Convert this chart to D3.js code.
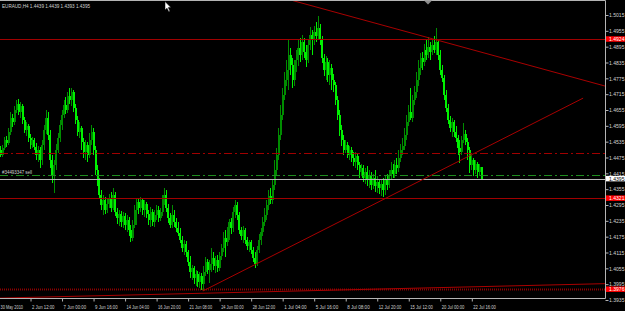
<!DOCTYPE html>
<html>
<head>
<meta charset="utf-8">
<script src="https://cdn.jsdelivr.net/npm/d3@7"></script>
<style>
  html, body { margin: 0; padding: 0; background: #000; overflow: hidden; }
</style>
</head>
<body>
<div id="chart"></div>
<script>
// EURAUD H4 bars (open / high / low / close)
const symbolTitle = "EURAUD,H4  1.4439 1.4439 1.4393 1.4395";
const orderText = "#34493347 sell";

const opens = [1.4496,
  1.4503,1.4484,1.4511,1.4541,1.4530,1.4572,1.4625,1.4610,1.4655,1.4678,
  1.4647,1.4670,1.4617,1.4579,1.4594,1.4549,1.4522,1.4541,1.4515,1.4484,
  1.4503,1.4466,1.4522,1.4579,1.4625,1.4560,1.4466,1.4409,1.4447,1.4503,
  1.4549,1.4598,1.4636,1.4674,1.4655,1.4708,1.4693,1.4723,1.4663,1.4617,
  1.4572,1.4587,1.4534,1.4496,1.4522,1.4484,1.4541,1.4572,1.4503,1.4428,
  1.4382,1.4333,1.4295,1.4314,1.4276,1.4299,1.4322,1.4284,1.4333,1.4269,
  1.4246,1.4261,1.4231,1.4253,1.4219,1.4238,1.4200,1.4170,1.4219,1.4276,
  1.4306,1.4284,1.4314,1.4276,1.4299,1.4261,1.4238,1.4269,1.4231,1.4257,
  1.4276,1.4246,1.4269,1.4314,1.4333,1.4284,1.4246,1.4219,1.4257,1.4231,
  1.4208,1.4189,1.4162,1.4132,1.4147,1.4117,1.4079,1.4041,1.4056,1.4018,
  1.4034,1.4003,1.4026,1.3996,1.4041,1.4079,1.4049,1.4071,1.4094,1.4064,
  1.4087,1.4056,1.4102,1.4132,1.4170,1.4155,1.4193,1.4231,1.4208,1.4269,
  1.4295,1.4257,1.4200,1.4177,1.4200,1.4162,1.4140,1.4155,1.4124,1.4094,
  1.4071,1.4124,1.4162,1.4193,1.4231,1.4257,1.4295,1.4329,1.4314,1.4371,
  1.4428,1.4484,1.4560,1.4636,1.4712,1.4769,1.4807,1.4863,1.4826,1.4769,
  1.4814,1.4845,1.4890,1.4863,1.4913,1.4875,1.4845,1.4901,1.4939,1.4920,
  1.4951,1.4936,1.4966,1.4920,1.4852,1.4807,1.4837,1.4788,1.4814,1.4769,
  1.4750,1.4693,1.4636,1.4579,1.4541,1.4503,1.4522,1.4484,1.4503,1.4473,
  1.4458,1.4481,1.4447,1.4420,1.4435,1.4397,1.4420,1.4390,1.4409,1.4371,
  1.4397,1.4367,1.4382,1.4359,1.4374,1.4352,1.4390,1.4371,1.4409,1.4428,
  1.4412,1.4447,1.4435,1.4473,1.4503,1.4519,1.4560,1.4610,1.4647,1.4625,
  1.4693,1.4723,1.4769,1.4814,1.4852,1.4837,1.4882,1.4863,1.4894,1.4875,
  1.4901,1.4882,1.4913,1.4863,1.4807,1.4776,1.4712,1.4663,1.4617,1.4587,
  1.4610,1.4572,1.4549,1.4511,1.4496,1.4541,1.4564,1.4534,1.4503,1.4447,
  1.4466,1.4428,1.4450,1.4420,1.4439];

const highs = [1.4511,
  1.4519,1.4522,1.4553,1.4556,1.4587,1.4647,1.4640,1.4670,1.4693,1.4697,
  1.4685,1.4678,1.4629,1.4610,1.4602,1.4564,1.4553,1.4549,1.4530,1.4519,
  1.4515,1.4541,1.4598,1.4655,1.4647,1.4579,1.4484,1.4466,1.4526,1.4568,
  1.4617,1.4655,1.4693,1.4704,1.4723,1.4738,1.4738,1.4731,1.4678,1.4632,
  1.4610,1.4594,1.4549,1.4541,1.4534,1.4568,1.4598,1.4587,1.4519,1.4447,
  1.4397,1.4352,1.4333,1.4325,1.4318,1.4337,1.4344,1.4359,1.4344,1.4284,
  1.4276,1.4272,1.4269,1.4265,1.4257,1.4250,1.4219,1.4238,1.4295,1.4322,
  1.4318,1.4325,1.4322,1.4314,1.4306,1.4276,1.4287,1.4280,1.4276,1.4295,
  1.4291,1.4284,1.4333,1.4359,1.4352,1.4299,1.4265,1.4295,1.4276,1.4246,
  1.4231,1.4208,1.4177,1.4162,1.4158,1.4124,1.4102,1.4068,1.4064,1.4049,
  1.4045,1.4041,1.4037,1.4064,1.4098,1.4090,1.4087,1.4132,1.4117,1.4102,
  1.4105,1.4117,1.4147,1.4193,1.4200,1.4212,1.4242,1.4246,1.4287,1.4314,
  1.4306,1.4269,1.4212,1.4215,1.4208,1.4174,1.4162,1.4162,1.4136,1.4117,
  1.4140,1.4185,1.4208,1.4250,1.4284,1.4314,1.4352,1.4359,1.4390,1.4466,
  1.4511,1.4587,1.4674,1.4738,1.4799,1.4845,1.4924,1.4890,1.4852,1.4845,
  1.4882,1.4920,1.4928,1.4939,1.4928,1.4901,1.4920,1.4970,1.4958,1.4973,
  1.4989,1.5011,1.4981,1.4936,1.4867,1.4860,1.4852,1.4845,1.4829,1.4791,
  1.4761,1.4708,1.4655,1.4598,1.4560,1.4541,1.4534,1.4519,1.4515,1.4496,
  1.4496,1.4488,1.4458,1.4450,1.4447,1.4435,1.4443,1.4428,1.4420,1.4412,
  1.4428,1.4405,1.4393,1.4390,1.4397,1.4405,1.4412,1.4428,1.4458,1.4450,
  1.4466,1.4473,1.4503,1.4526,1.4549,1.4587,1.4636,1.4674,1.4738,1.4712,
  1.4746,1.4799,1.4845,1.4871,1.4875,1.4905,1.4920,1.4932,1.4913,1.4920,
  1.4936,1.4966,1.4920,1.4882,1.4826,1.4788,1.4731,1.4678,1.4632,1.4625,
  1.4617,1.4594,1.4560,1.4541,1.4556,1.4606,1.4579,1.4549,1.4515,1.4484,
  1.4473,1.4466,1.4458,1.4450,1.4439];

const lows = [1.4481,
  1.4477,1.4477,1.4503,1.4515,1.4522,1.4560,1.4591,1.4598,1.4644,1.4636,
  1.4625,1.4602,1.4568,1.4556,1.4534,1.4507,1.4511,1.4503,1.4466,1.4458,
  1.4435,1.4447,1.4503,1.4564,1.4541,1.4435,1.4378,1.4340,1.4428,1.4492,
  1.4534,1.4579,1.4625,1.4640,1.4644,1.4678,1.4670,1.4647,1.4602,1.4556,
  1.4549,1.4503,1.4473,1.4466,1.4458,1.4473,1.4522,1.4484,1.4409,1.4367,
  1.4322,1.4276,1.4257,1.4261,1.4265,1.4284,1.4269,1.4276,1.4253,1.4223,
  1.4215,1.4212,1.4208,1.4200,1.4193,1.4177,1.4155,1.4158,1.4208,1.4219,
  1.4261,1.4269,1.4257,1.4250,1.4246,1.4219,1.4212,1.4215,1.4212,1.4238,
  1.4231,1.4234,1.4253,1.4295,1.4269,1.4227,1.4208,1.4208,1.4212,1.4193,
  1.4177,1.4151,1.4117,1.4105,1.4098,1.4064,1.4018,1.4011,1.3996,1.3988,
  1.3984,1.3980,1.3972,1.3969,1.4026,1.4034,1.3999,1.4041,1.4049,1.4037,
  1.4041,1.4045,1.4087,1.4117,1.4098,1.4140,1.4162,1.4185,1.4193,1.4246,
  1.4238,1.4185,1.4162,1.4151,1.4147,1.4124,1.4117,1.4109,1.4079,1.4056,
  1.4064,1.4113,1.4143,1.4177,1.4215,1.4238,1.4276,1.4299,1.4299,1.4352,
  1.4409,1.4466,1.4541,1.4617,1.4693,1.4746,1.4731,1.4788,1.4738,1.4746,
  1.4799,1.4822,1.4837,1.4845,1.4852,1.4818,1.4833,1.4882,1.4863,1.4901,
  1.4913,1.4920,1.4901,1.4833,1.4784,1.4769,1.4761,1.4750,1.4731,1.4723,
  1.4674,1.4617,1.4556,1.4519,1.4484,1.4492,1.4473,1.4466,1.4458,1.4443,
  1.4435,1.4428,1.4397,1.4405,1.4382,1.4374,1.4367,1.4359,1.4352,1.4356,
  1.4344,1.4340,1.4337,1.4329,1.4325,1.4333,1.4352,1.4359,1.4390,1.4397,
  1.4397,1.4412,1.4420,1.4458,1.4484,1.4503,1.4541,1.4594,1.4617,1.4610,
  1.4674,1.4700,1.4746,1.4788,1.4807,1.4822,1.4845,1.4852,1.4845,1.4863,
  1.4871,1.4863,1.4845,1.4788,1.4761,1.4693,1.4647,1.4602,1.4572,1.4553,
  1.4553,1.4534,1.4484,1.4454,1.4484,1.4530,1.4522,1.4466,1.4416,1.4428,
  1.4405,1.4412,1.4397,1.4405,1.4393];

const closes = [1.4503,
  1.4484,1.4511,1.4541,1.4530,1.4572,1.4625,1.4610,1.4655,1.4678,1.4647,
  1.4670,1.4617,1.4579,1.4594,1.4549,1.4522,1.4541,1.4515,1.4484,1.4503,
  1.4466,1.4522,1.4579,1.4625,1.4560,1.4466,1.4409,1.4447,1.4503,1.4549,
  1.4598,1.4636,1.4674,1.4655,1.4708,1.4693,1.4723,1.4663,1.4617,1.4572,
  1.4587,1.4534,1.4496,1.4522,1.4484,1.4541,1.4572,1.4503,1.4428,1.4382,
  1.4333,1.4295,1.4314,1.4276,1.4299,1.4322,1.4284,1.4333,1.4269,1.4246,
  1.4261,1.4231,1.4253,1.4219,1.4238,1.4200,1.4170,1.4219,1.4276,1.4306,
  1.4284,1.4314,1.4276,1.4299,1.4261,1.4238,1.4269,1.4231,1.4257,1.4276,
  1.4246,1.4269,1.4314,1.4333,1.4284,1.4246,1.4219,1.4257,1.4231,1.4208,
  1.4189,1.4162,1.4132,1.4147,1.4117,1.4079,1.4041,1.4056,1.4018,1.4034,
  1.4003,1.4026,1.3996,1.4041,1.4079,1.4049,1.4071,1.4094,1.4064,1.4087,
  1.4056,1.4102,1.4132,1.4170,1.4155,1.4193,1.4231,1.4208,1.4269,1.4295,
  1.4257,1.4200,1.4177,1.4200,1.4162,1.4140,1.4155,1.4124,1.4094,1.4071,
  1.4124,1.4162,1.4193,1.4231,1.4257,1.4295,1.4329,1.4314,1.4371,1.4428,
  1.4484,1.4560,1.4636,1.4712,1.4769,1.4807,1.4863,1.4826,1.4769,1.4814,
  1.4845,1.4890,1.4863,1.4913,1.4875,1.4845,1.4901,1.4939,1.4920,1.4951,
  1.4936,1.4966,1.4920,1.4852,1.4807,1.4837,1.4788,1.4814,1.4769,1.4750,
  1.4693,1.4636,1.4579,1.4541,1.4503,1.4522,1.4484,1.4503,1.4473,1.4458,
  1.4481,1.4447,1.4420,1.4435,1.4397,1.4420,1.4390,1.4409,1.4371,1.4397,
  1.4367,1.4382,1.4359,1.4374,1.4352,1.4390,1.4371,1.4409,1.4428,1.4412,
  1.4447,1.4435,1.4473,1.4503,1.4519,1.4560,1.4610,1.4647,1.4625,1.4693,
  1.4723,1.4769,1.4814,1.4852,1.4837,1.4882,1.4863,1.4894,1.4875,1.4901,
  1.4882,1.4913,1.4863,1.4807,1.4776,1.4712,1.4663,1.4617,1.4587,1.4610,
  1.4572,1.4549,1.4511,1.4496,1.4541,1.4564,1.4534,1.4503,1.4447,1.4466,
  1.4428,1.4450,1.4420,1.4439,1.4395];

const priceTicks = [1.5015, 1.4955, 1.4895, 1.4835, 1.4775, 1.4715, 1.4655, 1.4595,
  1.4535, 1.4475, 1.4415, 1.4355, 1.4295, 1.4235, 1.4175, 1.4115, 1.4055, 1.3995, 1.3935];

const timeTickBars = [0, 16, 32, 48, 64, 80, 96, 112, 128, 144, 160, 176, 192, 208, 224, 240];
const timeLabels = ["30 May 2010", "2 Jun 12:00", "7 Jun 00:00", "9 Jun 16:00", "14 Jun 04:00",
  "16 Jun 20:00", "21 Jun 08:00", "24 Jun 00:00", "28 Jun 12:00", "1 Jul 04:00", "5 Jul 16:00",
  "8 Jul 08:00", "12 Jul 20:00", "15 Jul 12:00", "20 Jul 00:00", "22 Jul 16:00"];

// horizontal levels
const redLevels = [1.4924, 1.4321];
const stopLevel = 1.4492;
const orderLevel = 1.4409;
const bidPrice = 1.4395;
const dotLevel = 1.3976;

// trend lines as [bar index, price] pairs
const trendLines = [
  [[147, 1.5074], [308, 1.4745]],
  [[103.5, 1.3969], [296.5, 1.4700]],
  [[-1, 1.3942], [308, 1.3997]],
];

const colors = {
  bg: "#000000",
  frame: "#b4b4b4",
  text: "#d2d2d2",
  bull: "#008c00",
  bear: "#00f000",
  level: "#a00000",
  trend: "#a80000",
  stop: "#a00000",
  dotted: "#8c0000",
  order: "#1e8c1e",
  bid: "#b4b4b4",
  labelRed: "#ff0000",
};

const W = 625, H = 311;
const plot = { left: 0, right: 605.5, top: 0.5, bottom: 298.5 };

const svg = d3.select("#chart").append("svg")
  .attr("width", W).attr("height", H)
  .style("display", "block")
  .style("font-family", "'Liberation Sans', Arial, sans-serif");

svg.append("rect").attr("width", W).attr("height", H).attr("fill", colors.bg);

const x = d3.scaleLinear().domain([0, 245]).range([-1, 481.65]);
const y = d3.scaleLinear().domain([1.3935, 1.5015]).range([300, 15]);

svg.append("clipPath").attr("id", "plotClip").append("rect")
  .attr("x", plot.left).attr("y", plot.top)
  .attr("width", plot.right - plot.left).attr("height", plot.bottom - plot.top);

const g = svg.append("g").attr("clip-path", "url(#plotClip)");

// candles
const bars = closes.map((c, i) => ({ i, o: opens[i], h: highs[i], l: lows[i], c }));
const cg = g.append("g").attr("shape-rendering", "crispEdges");
cg.selectAll(".wick").data(bars).enter().append("rect")
  .attr("x", d => x(d.i) - 0.5)
  .attr("width", 1)
  .attr("y", d => y(d.h))
  .attr("height", d => Math.max(1, y(d.l) - y(d.h)))
  .attr("fill", d => d.c >= d.o ? colors.bull : colors.bear);
cg.selectAll(".body").data(bars).enter().append("rect")
  .attr("x", d => x(d.i) - 1)
  .attr("width", 2)
  .attr("y", d => y(Math.max(d.o, d.c)))
  .attr("height", d => Math.max(1, Math.abs(y(d.o) - y(d.c))))
  .attr("fill", d => d.c >= d.o ? colors.bull : colors.bear);

// horizontal lines
function hline(price, color, dash, width) {
  g.append("line")
    .attr("x1", plot.left).attr("x2", plot.right)
    .attr("y1", Math.round(y(price)) + 0.5).attr("y2", Math.round(y(price)) + 0.5)
    .attr("stroke", color).attr("stroke-width", width || 1)
    .attr("stroke-dasharray", dash || null);
}
redLevels.forEach(p => hline(p, colors.level));
hline(stopLevel, colors.stop, "8,3,2,3");
hline(orderLevel, colors.order, "8,3,2,3");
hline(bidPrice, colors.bid);
hline(dotLevel, colors.dotted, "1,1", 2);

// trend lines
trendLines.forEach(pts => {
  g.append("line")
    .attr("x1", x(pts[0][0])).attr("y1", y(pts[0][1]))
    .attr("x2", x(pts[1][0])).attr("y2", y(pts[1][1]))
    .attr("stroke", colors.trend).attr("stroke-width", 1);
});

// frame
svg.append("path")
  .attr("d", `M${plot.left},${plot.top}H${plot.right}V${plot.bottom}H${plot.left}`)
  .attr("fill", "none").attr("stroke", colors.frame).attr("stroke-width", 1);

// chart shift marker
svg.append("path").attr("d", "M424,0.5L432,0.5L428,4.5Z").attr("fill", "#8c8c8c");

// price axis
const yAxis = d3.axisRight(y).tickValues(priceTicks).tickSize(3).tickFormat(d3.format(".4f"));
const ya = svg.append("g").attr("transform", `translate(${plot.right},0)`).call(yAxis);
ya.select(".domain").remove();
ya.selectAll(".tick line").attr("stroke", colors.frame);
ya.selectAll(".tick text")
  .attr("x", 3.5).attr("fill", colors.text)
  .style("font-size", "5.5px")
  .attr("textLength", 15.5).attr("lengthAdjust", "spacingAndGlyphs");

// time axis
const xAxis = d3.axisBottom(x).tickValues(timeTickBars).tickSize(3)
  .tickFormat((d, k) => timeLabels[k]);
const xa = svg.append("g").attr("transform", `translate(0,${plot.bottom})`).call(xAxis);
xa.select(".domain").remove();
xa.selectAll(".tick line").attr("stroke", colors.frame);
xa.selectAll(".tick text")
  .attr("text-anchor", "start").attr("x", 1).attr("y", 7)
  .attr("fill", colors.text)
  .style("font-size", "5px")
  .attr("textLength", 22.5).attr("lengthAdjust", "spacingAndGlyphs");

// price boxes on the axis
function priceBox(price, fill, textColor) {
  const yy = y(price);
  svg.append("rect")
    .attr("x", plot.right + 0.5).attr("y", yy - 2.75)
    .attr("width", W - plot.right).attr("height", 5.5)
    .attr("fill", fill);
  svg.append("text")
    .attr("x", plot.right + 3.5).attr("y", yy + 1.9)
    .attr("fill", textColor).style("font-size", "5.5px")
    .attr("textLength", 15.5).attr("lengthAdjust", "spacingAndGlyphs")
    .text(d3.format(".4f")(price));
}
redLevels.forEach(p => priceBox(p, colors.labelRed, "#ffffff"));
priceBox(bidPrice, "#ffffff", "#000000");
priceBox(dotLevel, colors.labelRed, "#ffffff");

// texts
svg.append("text")
  .attr("x", 2).attr("y", 7.5)
  .attr("fill", colors.text).style("font-size", "5.5px")
  .attr("textLength", 88).attr("lengthAdjust", "spacingAndGlyphs")
  .text(symbolTitle);

svg.append("text")
  .attr("x", 2).attr("y", y(orderLevel) - 0.8)
  .attr("fill", colors.text).style("font-size", "5.5px")
  .attr("textLength", 30).attr("lengthAdjust", "spacingAndGlyphs")
  .text(orderText);

// mouse pointer left in the screenshot
svg.append("path")
  .attr("d", "M165,1.5L165,10L167,8.2L168.8,11.8L170,11.2L168.3,7.6L171,7.6Z")
  .attr("fill", "#ffffff").attr("stroke", "#000").attr("stroke-width", 0.5);
</script>
</body>
</html>
